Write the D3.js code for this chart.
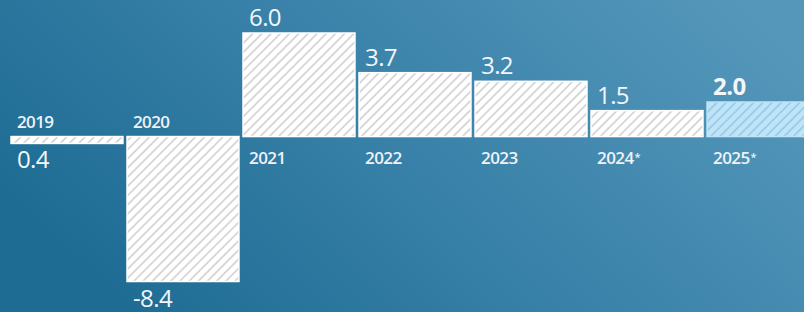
<!DOCTYPE html>
<html>
<head>
<meta charset="utf-8">
<script src="https://cdn.jsdelivr.net/npm/d3@7"></script>
<style>
  html, body { margin: 0; padding: 0; overflow: hidden; }
  svg { display: block; font-family: "Open Sans", sans-serif; }
</style>
</head>
<body>
<div id="chart"></div>
<script>
const years = ["2019", "2020", "2021", "2022", "2023", "2024*", "2025*"];
const values = [0.4, -8.4, 6.0, 3.7, 3.2, 1.5, 2.0];
const labels = ["0.4", "-8.4", "6.0", "3.7", "3.2", "1.5", "2.0"];
const highlight = "2025*";

const width = 804, height = 312;
const data = years.map((y, i) => ({ year: y, value: values[i], label: labels[i] }));

// the source draws 2019 beneath the axis even though the value is positive
const goesDown = d => d.value < 0 || d.year === "2019";

const svg = d3.select("#chart").append("svg")
  .attr("width", width)
  .attr("height", height);

const defs = svg.append("defs");

const bg = defs.append("linearGradient")
  .attr("id", "bg")
  .attr("x1", 0).attr("y1", 0.6)
  .attr("x2", 1).attr("y2", 0.2);
bg.append("stop").attr("offset", "0%").attr("stop-color", "#1e6c94");
bg.append("stop").attr("offset", "50%").attr("stop-color", "#3a82a9");
bg.append("stop").attr("offset", "100%").attr("stop-color", "#5597bb");

function hatch(id, fill, line) {
  const p = defs.append("pattern")
    .attr("id", id)
    .attr("patternUnits", "userSpaceOnUse")
    .attr("width", 6.5)
    .attr("height", 6.5)
    .attr("patternTransform", "rotate(45)");
  p.append("rect").attr("width", 6.5).attr("height", 6.5).attr("fill", fill);
  p.append("line")
    .attr("x1", 1).attr("y1", 0).attr("x2", 1).attr("y2", 6.5)
    .attr("stroke", line)
    .attr("stroke-width", 1.6);
}
hatch("hatchWhite", "#ffffff", "#d0d0d0");
hatch("hatchBlue", "#bfe4f7", "#94c9e6");

svg.append("rect")
  .attr("width", width)
  .attr("height", height)
  .attr("fill", "url(#bg)");

const x = d3.scaleBand()
  .domain(years)
  .range([11, 819])
  .paddingInner(0.035)
  .paddingOuter(0);

const y = d3.scaleLinear()
  .domain([-8.4, 6.0])
  .range([281.5, 33]);

const y0 = y(0);
const barTop = d => goesDown(d) ? y0 : y(Math.abs(d.value));
const barBottom = d => goesDown(d) ? y(-Math.abs(d.value)) : y0;

const g = svg.append("g");

g.selectAll(".bar")
  .data(data)
  .enter().append("rect")
    .attr("class", "bar")
    .attr("x", d => x(d.year))
    .attr("y", barTop)
    .attr("width", x.bandwidth())
    .attr("height", d => barBottom(d) - barTop(d))
    .attr("fill", d => d.year === highlight ? "url(#hatchBlue)" : "url(#hatchWhite)")
    .attr("stroke", d => d.year === highlight ? "#bfe4f7" : "#ffffff")
    .attr("stroke-width", 1.5);

// year labels: above the axis for bars going down, below otherwise
const yearText = g.selectAll(".year")
  .data(data)
  .enter().append("text")
    .attr("class", "year")
    .attr("x", d => x(d.year) + 6)
    .attr("y", d => goesDown(d) ? y0 - 9 : y0 + 27)
    .attr("fill", "#eef3f7")
    .style("font-size", "17px")
    .style("font-weight", 600)
    .style("letter-spacing", "-0.6px");

yearText.append("tspan").text(d => d.year.replace("*", ""));
yearText.filter(d => d.year.endsWith("*"))
  .append("tspan")
    .attr("dx", 1)
    .attr("dy", -3)
    .style("font-size", "11px")
    .text("*");

// value labels at the far end of each bar
g.selectAll(".value")
  .data(data)
  .enter().append("text")
    .attr("class", "value")
    .attr("x", d => x(d.year) + 6)
    .attr("y", d => goesDown(d) ? barBottom(d) + 25 : barTop(d) - 7)
    .attr("fill", "#f4f7fa")
    .style("font-size", "24px")
    .style("font-weight", d => d.year === highlight ? 700 : 400)
    .style("letter-spacing", "-0.6px")
    .text(d => d.label);
</script>
</body>
</html>
